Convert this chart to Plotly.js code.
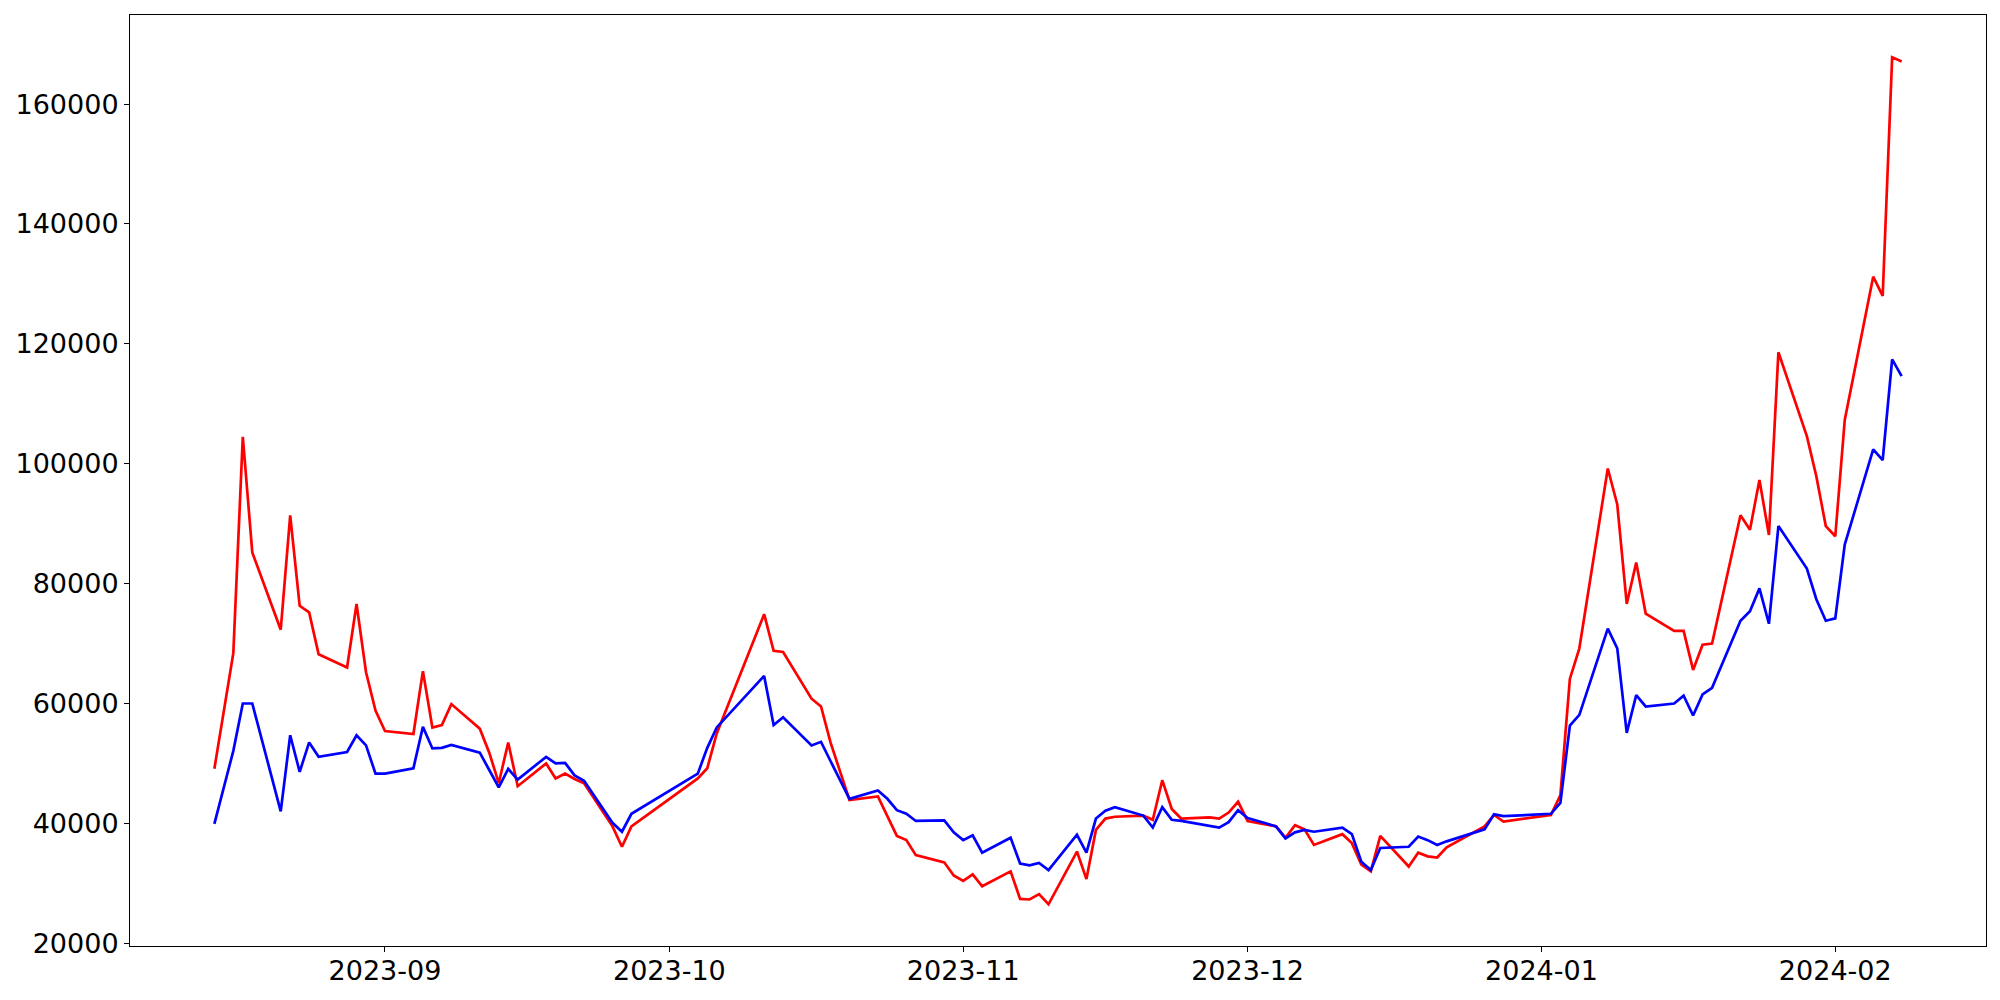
<!DOCTYPE html>
<html>
<head>
<meta charset="utf-8">
<script src="https://cdn.plot.ly/plotly-3.0.1.min.js"></script>
<style>
html, body { margin: 0; padding: 0; background: #ffffff; }
#chart { width: 2000px; height: 1000px; }
</style>
</head>
<body>
<div id="chart"></div>
<script>
// Trading dates (points as drawn in the reference)
const dates = [
  '2023-08-14','2023-08-16','2023-08-17','2023-08-18','2023-08-21','2023-08-22','2023-08-23','2023-08-24','2023-08-25','2023-08-28','2023-08-29','2023-08-30','2023-08-31',
  '2023-09-01','2023-09-04','2023-09-05','2023-09-06','2023-09-07','2023-09-08','2023-09-11','2023-09-12','2023-09-13','2023-09-14','2023-09-15','2023-09-18','2023-09-19','2023-09-20','2023-09-21','2023-09-22','2023-09-25','2023-09-26','2023-09-27',
  '2023-10-04','2023-10-05','2023-10-06','2023-10-11','2023-10-12','2023-10-13','2023-10-16','2023-10-17','2023-10-18','2023-10-20','2023-10-23','2023-10-24','2023-10-25','2023-10-26','2023-10-27','2023-10-30','2023-10-31',
  '2023-11-01','2023-11-02','2023-11-03','2023-11-06','2023-11-07','2023-11-08','2023-11-09','2023-11-10','2023-11-13','2023-11-14','2023-11-15','2023-11-16','2023-11-17','2023-11-20','2023-11-21','2023-11-22','2023-11-23','2023-11-24','2023-11-27','2023-11-28','2023-11-29','2023-11-30',
  '2023-12-01','2023-12-04','2023-12-05','2023-12-06','2023-12-07','2023-12-08','2023-12-11','2023-12-12','2023-12-13','2023-12-14','2023-12-15','2023-12-18','2023-12-19','2023-12-20','2023-12-21','2023-12-22','2023-12-26','2023-12-27','2023-12-28',
  '2024-01-02','2024-01-03','2024-01-04','2024-01-05','2024-01-08','2024-01-09','2024-01-10','2024-01-11','2024-01-12','2024-01-15','2024-01-16','2024-01-17','2024-01-18','2024-01-19','2024-01-22','2024-01-23','2024-01-24','2024-01-25','2024-01-26','2024-01-29','2024-01-30','2024-01-31',
  '2024-02-01','2024-02-02','2024-02-05','2024-02-06','2024-02-07','2024-02-08'
];

const redValues = [
  49100, 68400, 104500, 85200, 72300, 91400, 76300, 75200, 68200, 66000, 76600, 65200, 58800,
  55400, 54900, 65400, 56000, 56400, 59900, 55800, 51800, 46700, 53500, 46200, 50000, 47500, 48300, 47400, 46700, 39500, 36100, 39500,
  47500, 49200, 55000, 74900, 68800, 68600, 60800, 59500, 53500, 43900, 44500, 41200, 37900, 37200, 34700, 33500, 31300,
  30400, 31500, 29500, 32000, 27400, 27300, 28200, 26500, 35300, 30700, 38900, 40800, 41100, 41300, 40600, 47200, 42400, 40800, 41000, 40800, 41800, 43600,
  40400, 39500, 37600, 39700, 39000, 36400, 38200, 36700, 33100, 32000, 37900, 32800, 35100, 34500, 34300, 36000, 39500, 41400, 40300,
  41400, 44700, 64100, 69200, 99200, 93200, 76600, 83500, 75000, 72100, 72100, 65600, 69800, 70000, 91400, 89000, 97300, 88100, 118600, 104600, 97900, 89600,
  87900, 107300, 131200, 128000, 167800, 167100
];

const blueValues = [
  39900, 52100, 60000, 60000, 42000, 54700, 48600, 53500, 51100, 51900, 54700, 53000, 48300,
  48300, 49200, 56100, 52500, 52600, 53100, 51800, 48900, 46000, 49100, 47300, 51100, 50000, 50100, 48000, 47100, 40100, 38600, 41600,
  48300, 52600, 56000, 64600, 56400, 57700, 53000, 53600, 50400, 44100, 45500, 44100, 42200, 41600, 40400, 40500, 38500,
  37200, 38000, 35100, 37600, 33300, 33000, 33400, 32200, 38100, 35100, 40800, 42100, 42700, 41300, 39300, 42700, 40600, 40400, 39600, 39300, 40200, 42200,
  40900, 39500, 37500, 38500, 38900, 38600, 39300, 38200, 33600, 32200, 35900, 36100, 37800, 37200, 36400, 37000, 39000, 41500, 41200,
  41600, 43400, 56300, 58100, 72500, 69200, 55100, 61400, 59500, 60000, 61300, 58000, 61500, 62600, 73800, 75400, 79200, 73300, 89600, 82500, 77400, 73800,
  74200, 86500, 102400, 100600, 117400, 114600
];

const xTickVals = ['2023-09-01','2023-10-01','2023-11-01','2023-12-01','2024-01-01','2024-02-01'];
const xTickLabels = ['2023-09','2023-10','2023-11','2023-12','2024-01','2024-02'];
const yTickVals = [20000, 40000, 60000, 80000, 100000, 120000, 140000, 160000];
const yTickLabels = yTickVals.map(v => String(v));

const traces = [
  { x: dates, y: redValues, type: 'scatter', mode: 'lines', line: { color: '#ff0000', width: 2.7 }, showlegend: false, hoverinfo: 'x+y' },
  { x: dates, y: blueValues, type: 'scatter', mode: 'lines', line: { color: '#0000ff', width: 2.7 }, showlegend: false, hoverinfo: 'x+y' }
];

const axisFont = { family: 'DejaVu Sans, sans-serif', size: 27, color: '#000000' };

const layout = {
  width: 2000,
  height: 1000,
  margin: { l: 130, r: 14, t: 15, b: 54, pad: 0 },
  paper_bgcolor: '#ffffff',
  plot_bgcolor: '#ffffff',
  showlegend: false,
  xaxis: {
    type: 'date',
    range: ['2023-08-05 02:24', '2024-02-16 21:36'],
    tickmode: 'array',
    tickvals: xTickVals,
    ticktext: xTickLabels,
    ticks: 'outside',
    ticklen: 5,
    tickwidth: 1,
    tickcolor: '#000000',
    tickfont: axisFont,
    ticklabelstandoff: -4,
    showgrid: false,
    zeroline: false,
    showline: true,
    linecolor: '#000000',
    linewidth: 1,
    mirror: true
  },
  yaxis: {
    range: [19540, 174860],
    tickmode: 'array',
    tickvals: yTickVals,
    ticktext: yTickLabels,
    ticks: 'outside',
    ticklen: 5,
    tickwidth: 1,
    tickcolor: '#000000',
    tickfont: axisFont,
    showgrid: false,
    zeroline: false,
    showline: true,
    linecolor: '#000000',
    linewidth: 1,
    mirror: true
  }
};

Plotly.newPlot('chart', traces, layout, { displayModeBar: false, staticPlot: true });
</script>
</body>
</html>
